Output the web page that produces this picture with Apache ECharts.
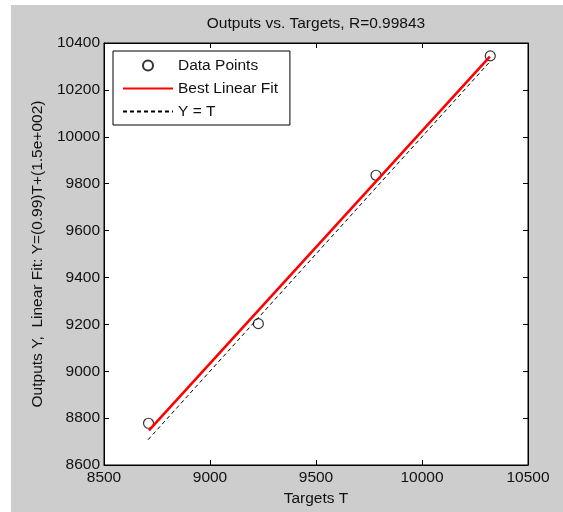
<!DOCTYPE html>
<html>
<head>
<meta charset="utf-8">
<script src="https://cdn.jsdelivr.net/npm/echarts@6/dist/echarts.min.js"></script>
<style>html,body{margin:0;padding:0;background:#fff;}#c{width:563px;height:512px;}</style>
</head>
<body>
<div id="c"></div>
<script>
var titleText = 'Outputs vs. Targets, R=0.99843';
var xName = 'Targets T';
var yName = 'Outputs Y,  Linear Fit: Y=(0.99)T+(1.5e+002)';
var targets = [8710, 9228, 9783, 10322];
var outputs = [8778, 9203, 9836, 10345];
var fitT = [8712, 10320];
var fitY = [8748, 10342];
var identT = [8708, 10320];
var legendNames = ['Data Points', 'Best Linear Fit', 'Y = T'];

var FONT = 'Liberation Sans, Arial, sans-serif';
var FS = 15.5;
var TXT = '#111';

function pairs(a, b) { return a.map(function (v, i) { return [v, b[i]]; }); }
function plain(v) { return String(v); }

var chart = echarts.init(document.getElementById('c'), null, {renderer: 'canvas'});
var axisCommon = {
  type: 'value',
  axisLine: {show: true, onZero: false, lineStyle: {color: '#000', width: 1}},
  axisTick: {show: true, inside: true, length: 5, lineStyle: {color: '#000'}},
  splitLine: {show: false}
};
chart.setOption({
  backgroundColor: '#fff',
  animation: false,
  textStyle: {fontFamily: FONT},
  graphic: [{
    type: 'rect', silent: true, z: -100,
    shape: {x: 11, y: 5, width: 552, height: 507},
    style: {fill: '#cdcdcd'}
  }],
  title: {
    text: titleText, left: 316, top: 16, textAlign: 'center', padding: 0,
    textStyle: {fontSize: FS, fontWeight: 'normal', color: TXT, fontFamily: FONT}
  },
  grid: {
    left: 104, top: 43, right: 35, bottom: 47,
    show: true, backgroundColor: '#fff', borderColor: '#000', borderWidth: 1
  },
  legend: {
    data: [
      {name: legendNames[0]},
      {name: legendNames[1], itemStyle: {opacity: 0}},
      {name: legendNames[2], itemStyle: {opacity: 0}}
    ],
    orient: 'vertical', left: 113, top: 51,
    padding: [6, 12, 5, 9], itemWidth: 50, itemHeight: 10, itemGap: 6,
    backgroundColor: '#fff', borderColor: '#000', borderWidth: 1,
    textStyle: {fontSize: FS, color: TXT, fontFamily: FONT, lineHeight: 17},
    selectedMode: false
  },
  xAxis: [
    Object.assign({}, axisCommon, {
      min: 8500, max: 10500, interval: 500, position: 'bottom',
      name: xName, nameLocation: 'middle', nameGap: 25,
      nameTextStyle: {fontSize: FS, color: TXT, fontFamily: FONT},
      axisLabel: {fontSize: FS, color: TXT, fontFamily: FONT, margin: 5, formatter: plain, showMinLabel: true, showMaxLabel: true}
    }),
    Object.assign({}, axisCommon, {
      min: 8500, max: 10500, interval: 500, position: 'top',
      axisLabel: {show: false}
    })
  ],
  yAxis: [
    Object.assign({}, axisCommon, {
      min: 8600, max: 10400, interval: 200, position: 'left',
      name: yName, nameLocation: 'middle', nameGap: 56, nameRotate: 90,
      nameTextStyle: {fontSize: FS, color: TXT, fontFamily: FONT},
      axisLabel: {fontSize: FS, color: TXT, fontFamily: FONT, margin: 4, formatter: plain, showMinLabel: true, showMaxLabel: true}
    }),
    Object.assign({}, axisCommon, {
      min: 8600, max: 10400, interval: 200, position: 'right',
      axisLabel: {show: false}
    })
  ],
  series: [
    {
      name: legendNames[0], type: 'scatter', z: 2,
      data: pairs(targets, outputs),
      symbol: 'circle', symbolSize: 10,
      itemStyle: {color: 'rgba(255,255,255,0)', borderColor: '#000', borderWidth: 1.2}
    },
    {
      name: legendNames[1], type: 'line', z: 4,
      data: pairs(fitT, fitY),
      symbol: 'none', showSymbol: false,
      lineStyle: {color: '#ff0000', width: 2.6},
      itemStyle: {color: '#ff0000'}
    },
    {
      name: legendNames[2], type: 'line', z: 3,
      data: pairs(identT, identT),
      symbol: 'none', showSymbol: false,
      lineStyle: {color: '#000', width: 1, type: [4, 3]},
      itemStyle: {color: '#000'}
    }
  ]
});
</script>
</body>
</html>
